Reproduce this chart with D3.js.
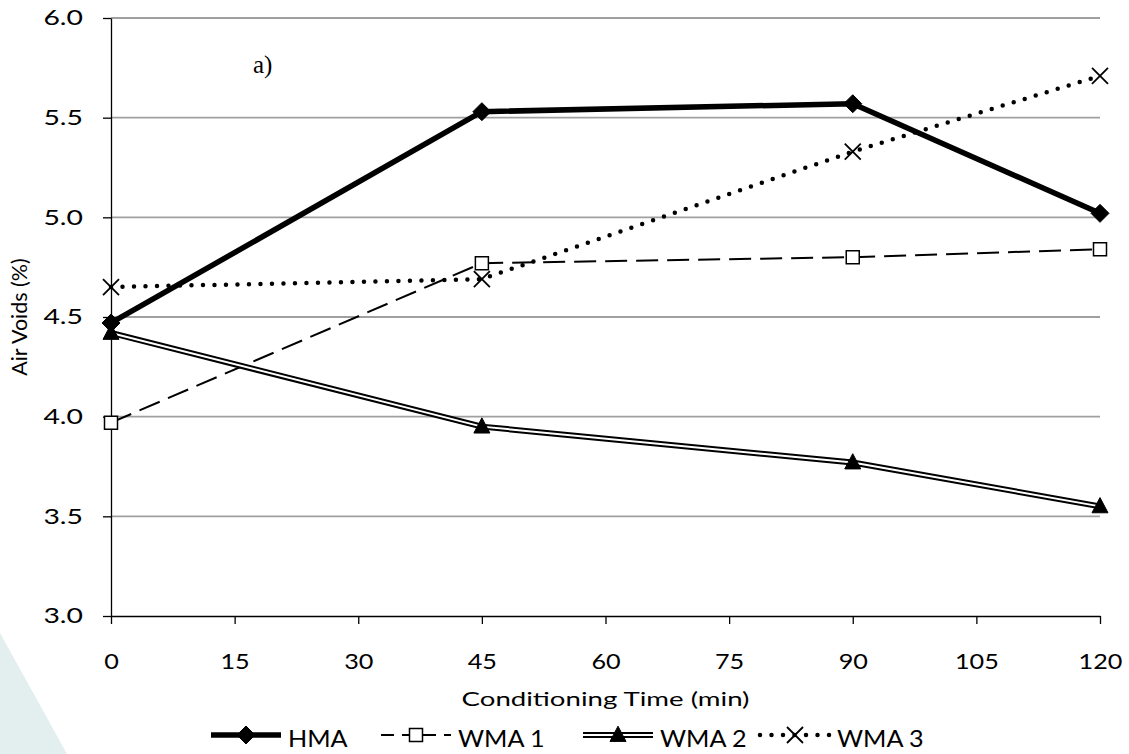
<!DOCTYPE html>
<html>
<head>
<meta charset="utf-8">
<script src="https://cdn.jsdelivr.net/npm/d3@7"></script>
<style>
  body { margin: 0; background: #fff; }
  svg { display: block; }
  .axis text { font-family: Lato, sans-serif; font-size: 21px; fill: #000; }
  .axis path, .axis line { stroke: #000; stroke-width: 1.3; }
</style>
</head>
<body>
<div id="chart"></div>
<script>
// data
const times = [0, 45, 90, 120];
const hma = [4.47, 5.53, 5.57, 5.02];
const wma1 = [3.97, 4.77, 4.80, 4.84];
const wma2 = [4.42, 3.95, 3.77, 3.55];
const wma3 = [4.65, 4.69, 5.33, 5.71];
const xTicks = [0, 15, 30, 45, 60, 75, 90, 105, 120];
const yTicks = [3.0, 3.5, 4.0, 4.5, 5.0, 5.5, 6.0];
const seriesNames = ['HMA', 'WMA 1', 'WMA 2', 'WMA 3'];

let dimensions = {
  width: 1129,
  height: 754,
  margin: { top: 18, bottom: 138, left: 111, right: 29 },
};
dimensions.ctrWidth = dimensions.width - dimensions.margin.left - dimensions.margin.right;
dimensions.ctrHeight = dimensions.height - dimensions.margin.top - dimensions.margin.bottom;

// the source picture is a little wider than tall, so texts get stretched sideways
const stretch = (sel, k) => {
  sel.each(function () {
    const t = d3.select(this);
    const x = +t.attr('x') || 0;
    const y = +t.attr('y') || 0;
    t.attr('x', 0).attr('y', 0).attr('transform', `translate(${x}, ${y}) scale(${k}, 1)`);
  });
};

const svg = d3.select('#chart')
  .append('svg')
  .attr('width', dimensions.width)
  .attr('height', dimensions.height);

// pale decoration in the lower left corner
svg.append('path')
  .attr('d', 'M0,633 L67,754 L0,754 Z')
  .attr('fill', '#e2efee');

const ctr = svg.append('g')
  .attr('transform', `translate(${dimensions.margin.left}, ${dimensions.margin.top})`);

const xScale = d3.scaleLinear().domain([0, 120]).range([0, dimensions.ctrWidth]);
const yScale = d3.scaleLinear().domain([3, 6]).range([dimensions.ctrHeight, 0]);

// gridlines
ctr.append('g')
  .selectAll('line')
  .data(yTicks.filter((d) => d > 3))
  .join('line')
  .attr('x1', 0)
  .attr('x2', dimensions.ctrWidth)
  .attr('y1', (d) => yScale(d))
  .attr('y2', (d) => yScale(d))
  .attr('stroke', '#a0a0a0')
  .attr('stroke-width', 1.8);

// axes
const yAxis = d3.axisLeft(yScale)
  .tickValues(yTicks)
  .tickFormat(d3.format('.1f'))
  .tickSize(8)
  .tickSizeOuter(0)
  .tickPadding(20);
const xAxis = d3.axisBottom(xScale)
  .tickValues(xTicks)
  .tickSize(8)
  .tickSizeOuter(0)
  .tickPadding(30);

const yAxisGroup = ctr.append('g').classed('axis', true).call(yAxis);
const xAxisGroup = ctr.append('g').classed('axis', true)
  .attr('transform', `translate(0, ${dimensions.ctrHeight})`)
  .call(xAxis);

ctr.selectAll('.axis .domain').attr('stroke-width', 1.5);
stretch(yAxisGroup.selectAll('text'), 1.35);
stretch(xAxisGroup.selectAll('text'), 1.2);

// axis titles
ctr.append('text')
  .attr('x', dimensions.ctrWidth / 2)
  .attr('y', dimensions.ctrHeight + 90)
  .attr('text-anchor', 'middle')
  .style('font-family', 'Lato, sans-serif')
  .style('font-size', '20px')
  .text('Conditioning Time (min)')
  .call(stretch, 1.38);

ctr.append('text')
  .attr('transform', `translate(${-dimensions.margin.left + 27}, ${dimensions.ctrHeight / 2}) rotate(-90)`)
  .attr('text-anchor', 'middle')
  .style('font-family', 'Lato, sans-serif')
  .style('font-size', '21.5px')
  .text('Air Voids (%)');

ctr.append('text')
  .attr('x', 142)
  .attr('y', 55)
  .style('font-family', '"Liberation Serif", serif')
  .style('font-size', '25px')
  .text('a)');

// marker shapes
const diamond = (s) => `M0,${-s}L${s},0L0,${s}L${-s},0Z`;
const square = (s) => `M${-s},${-s}H${s}V${s}H${-s}Z`;
const triangle = (s) => `M0,${-s * 1.1}L${s},${s * 0.8}L${-s},${s * 0.8}Z`;
const cross = (s) => `M${-s},${-s}L${s},${s}M${-s},${s}L${s},${-s}`;

const line = d3.line()
  .x((d) => xScale(d[0]))
  .y((d) => yScale(d[1]));
const pts = (vals) => times.map((t, i) => [t, vals[i]]);

// HMA
ctr.append('path')
  .attr('d', line(pts(hma)))
  .attr('fill', 'none')
  .attr('stroke', '#000')
  .attr('stroke-width', 5.5)
  .attr('stroke-linejoin', 'round');

// WMA 1
ctr.append('path')
  .attr('d', line(pts(wma1)))
  .attr('fill', 'none')
  .attr('stroke', '#000')
  .attr('stroke-width', 2)
  .attr('stroke-dasharray', '22,9');

// WMA 2 (double line)
ctr.append('path')
  .attr('d', line(pts(wma2)))
  .attr('fill', 'none')
  .attr('stroke', '#000')
  .attr('stroke-width', 6);
ctr.append('path')
  .attr('d', line(pts(wma2)))
  .attr('fill', 'none')
  .attr('stroke', '#fff')
  .attr('stroke-width', 2);

// WMA 3
ctr.append('path')
  .attr('d', line(pts(wma3)))
  .attr('fill', 'none')
  .attr('stroke', '#000')
  .attr('stroke-width', 4.5)
  .attr('stroke-linecap', 'round')
  .attr('stroke-dasharray', '0,11.5');

const markers = [
  { vals: hma, d: diamond(9), fill: '#000', stroke: '#000', sw: 1 },
  { vals: wma1, d: square(6.5), fill: '#fff', stroke: '#000', sw: 1.5 },
  { vals: wma2, d: triangle(8), fill: '#000', stroke: '#000', sw: 1 },
  { vals: wma3, d: cross(8), fill: 'none', stroke: '#000', sw: 1.8 },
];

markers.forEach((m) => {
  ctr.append('g')
    .selectAll('path')
    .data(pts(m.vals))
    .join('path')
    .attr('transform', (d) => `translate(${xScale(d[0])}, ${yScale(d[1])})`)
    .attr('d', m.d)
    .attr('fill', m.fill)
    .attr('stroke', m.stroke)
    .attr('stroke-width', m.sw);
});

// legend
const legendY = 735;
const legendX = [211, 381, 583, 760];
const legend = svg.append('g');

seriesNames.forEach((name, i) => {
  const g = legend.append('g').attr('transform', `translate(${legendX[i]}, ${legendY})`);
  const seg = g.append('line').attr('x1', 0).attr('x2', 70).attr('y1', 0).attr('y2', 0).attr('stroke', '#000');
  if (i === 0) seg.attr('stroke-width', 5.5);
  if (i === 1) seg.attr('stroke-width', 2).attr('stroke-dasharray', '13,8');
  if (i === 2) {
    seg.attr('stroke-width', 6);
    g.append('line').attr('x1', 0).attr('x2', 70).attr('stroke', '#fff').attr('stroke-width', 2);
  }
  if (i === 3) seg.attr('stroke-width', 4.5).attr('stroke-linecap', 'round').attr('stroke-dasharray', '0,11.5');
  g.append('path')
    .attr('transform', 'translate(35, 0)')
    .attr('d', markers[i].d)
    .attr('fill', markers[i].fill)
    .attr('stroke', markers[i].stroke)
    .attr('stroke-width', markers[i].sw);
  g.append('text')
    .attr('x', 77)
    .attr('y', 12)
    .style('font-family', 'Lato, sans-serif')
    .style('font-size', '24px')
    .text(name)
    .call(stretch, 1.05);
});
</script>
</body>
</html>
